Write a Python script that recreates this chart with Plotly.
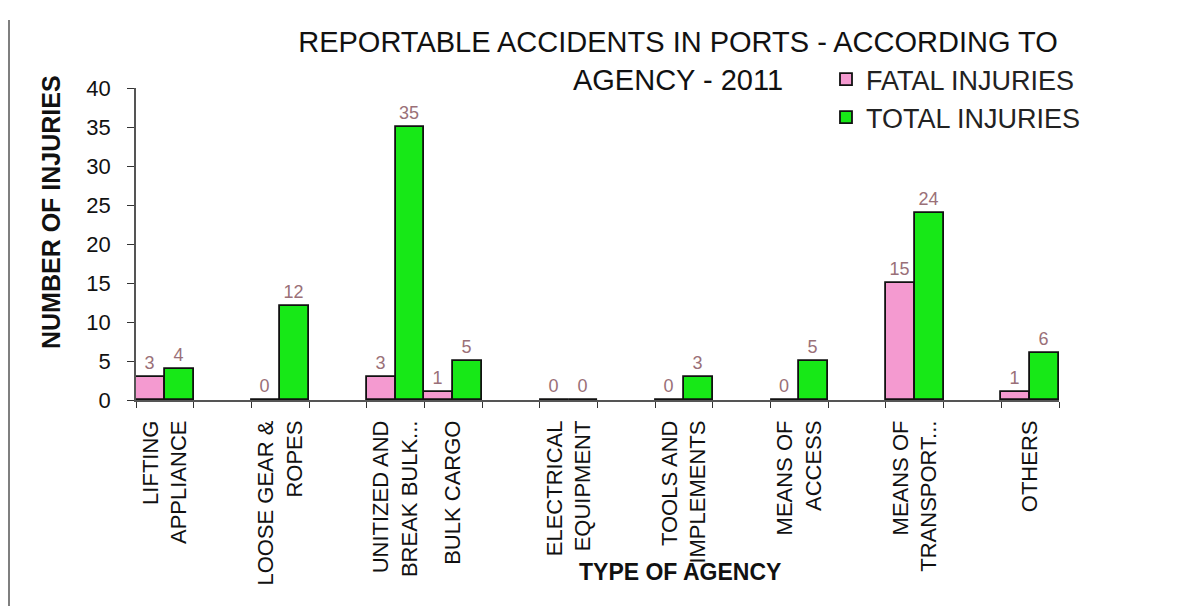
import plotly.graph_objects as go

categories = ["LIFTING<br>APPLIANCE", " ", "LOOSE GEAR &<br>ROPES", "  ",
              "UNITIZED AND<br>BREAK BULK...", "BULK CARGO", "   ",
              "ELECTRICAL<br>EQUIPMENT", "    ", "TOOLS AND<br>IMPLEMENTS", "     ",
              "MEANS OF<br>ACCESS", "      ", "MEANS OF<br>TRANSPORT...", "       ",
              "OTHERS"]
fatal = [3, None, 0, None, 3, 1, None, 0, None, 0, None, 0, None, 15, None, 1]
total = [4, None, 12, None, 35, 5, None, 0, None, 3, None, 5, None, 24, None, 6]
y_ticks = [0, 5, 10, 15, 20, 25, 30, 35, 40]

FONT = "Arial, Liberation Sans, sans-serif"
PINK = "#f49ad0"
GREEN = "#17e817"
LABEL = "#9a7078"

fig = go.Figure()
fig.add_trace(go.Bar(
    name="FATAL INJURIES", x=categories, y=fatal,
    marker=dict(color=PINK, line=dict(color="#111111", width=1.8)),
    text=[None if v is None else str(v) for v in fatal],
    textposition="outside", textfont=dict(size=18, color=LABEL, family=FONT),
    cliponaxis=False,
))
fig.add_trace(go.Bar(
    name="TOTAL INJURIES", x=categories, y=total,
    marker=dict(color=GREEN, line=dict(color="#111111", width=1.8)),
    text=[None if v is None else str(v) for v in total],
    textposition="outside", textfont=dict(size=18, color=LABEL, family=FONT),
    cliponaxis=False,
))

OFF = 8  # browser body margin
W, H = 1184, 606
L, R, T, B = 136 - OFF, 1059 - OFF, 88 - OFF, 400 - OFF


def px_x(x):
    return (x - OFF - L) / (R - L)


def px_y(y):
    return (B - (y - OFF)) / (B - T)


fig.update_layout(
    width=W, height=H,
    margin=dict(l=L, r=W - R, t=T, b=H - B),
    paper_bgcolor="white", plot_bgcolor="white",
    barmode="group", bargap=0, bargroupgap=0,
    font=dict(family=FONT, color="#111111"),
    title=dict(
        text="REPORTABLE ACCIDENTS IN PORTS - ACCORDING TO<br>AGENCY - 2011",
        x=(678 - OFF) / W, xanchor="center", xref="container",
        y=1 - (52 - OFF) / H, yanchor="top", yref="container",
        font=dict(size=29, family=FONT, color="#111111"),
    ),
    legend=dict(
        x=px_x(826), xanchor="left",
        y=px_y(55), yanchor="top",
        font=dict(size=27, family=FONT, color="#222222"),
        bgcolor="rgba(0,0,0,0)", itemwidth=30,
        tracegroupgap=0,
    ),
    showlegend=True,
)

fig.update_xaxes(
    type="category", tickson="boundaries", ticks="outside", ticklen=6,
    tickcolor="#333333", tickangle=-90, showline=True, linecolor="#555555",
    linewidth=1.5, showgrid=False, ticklabelstandoff=10,
    tickfont=dict(size=22, family=FONT, color="#111111"),
)
fig.update_yaxes(
    range=[0, 40], tickvals=y_ticks, ticks="outside", ticklen=7,
    tickcolor="#333333", showline=True, linecolor="#555555", linewidth=1.5,
    showgrid=False, zeroline=False, ticklabelstandoff=12,
    tickfont=dict(size=22, family=FONT, color="#111111"),
)

fig.add_annotation(
    text="<b>NUMBER OF INJURIES</b>", textangle=-90,
    xref="paper", yref="paper",
    x=px_x(51), y=px_y(212),
    xanchor="center", yanchor="middle", showarrow=False,
    font=dict(size=25, family=FONT, color="#111111"),
)
fig.add_annotation(
    text="<b>TYPE OF AGENCY</b>",
    xref="paper", yref="paper",
    x=px_x(680), y=px_y(572),
    xanchor="center", yanchor="middle", showarrow=False,
    font=dict(size=23, family=FONT, color="#111111"),
)
# page border line from the scan
fig.add_shape(
    type="line", xref="paper", yref="paper",
    x0=px_x(9), x1=px_x(9),
    y0=px_y(20), y1=px_y(606),
    line=dict(color="#555555", width=1.5),
)

fig.write_html("out.html")
